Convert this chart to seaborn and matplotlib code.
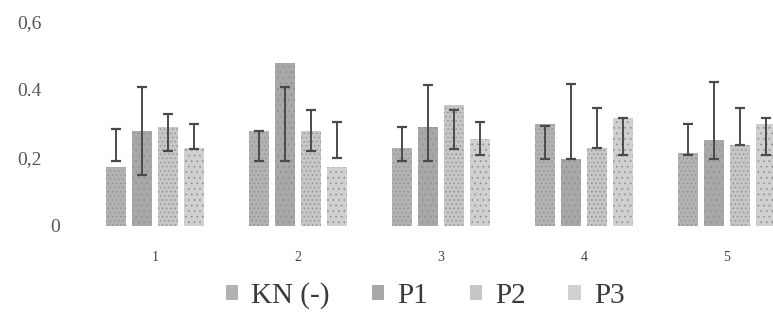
import numpy as np
import pandas as pd
import matplotlib
matplotlib.use("Agg")
import matplotlib.pyplot as plt
import matplotlib.transforms as mtransforms
import seaborn as sns

# Group labels and treatments
groups = ["1", "2", "3", "4", "5"]
treatments = ["KN (-)", "P1", "P2", "P3"]

# Bar heights per treatment
kn_vals = [0.175, 0.28, 0.23, 0.30, 0.215]
p1_vals = [0.28, 0.48, 0.29, 0.197, 0.253]
p2_vals = [0.29, 0.28, 0.355, 0.23, 0.238]
p3_vals = [0.23, 0.175, 0.255, 0.317, 0.30]

# Error bar lower / upper ends per treatment
kn_lo = [0.19, 0.19, 0.19, 0.197, 0.21]
kn_hi = [0.285, 0.28, 0.29, 0.294, 0.30]
p1_lo = [0.15, 0.19, 0.19, 0.197, 0.197]
p1_hi = [0.41, 0.41, 0.415, 0.418, 0.425]
p2_lo = [0.22, 0.22, 0.227, 0.23, 0.238]
p2_hi = [0.33, 0.34, 0.34, 0.347, 0.347]
p3_lo = [0.226, 0.20, 0.21, 0.21, 0.21]
p3_hi = [0.30, 0.306, 0.306, 0.317, 0.317]

y_ticks = [0, 0.2, 0.4, 0.6]
y_tick_labels = ["0", "0,2", "0.4", "0,6"]

values = [kn_vals, p1_vals, p2_vals, p3_vals]
lows = [kn_lo, p1_lo, p2_lo, p3_lo]
highs = [kn_hi, p1_hi, p2_hi, p3_hi]

df = pd.DataFrame({
    "group": np.repeat([groups], len(treatments), axis=0).ravel(),
    "treatment": np.repeat(treatments, len(groups)),
    "value": np.concatenate(values),
})

sns.set_theme(style="white")
plt.rcParams["font.family"] = ["Liberation Serif", "DejaVu Serif"]
plt.rcParams["hatch.linewidth"] = 0.5

colors = ["#b2b2b2", "#a8a8a8", "#c6c6c6", "#d0d0d0"]

fig = plt.figure(figsize=(7.73, 3.30), dpi=100)
ax = fig.add_axes([83.5 / 773, 1 - 226 / 330, 715 / 773, 204 / 330])

sns.barplot(data=df, x="group", y="value", hue="treatment",
            order=groups, hue_order=treatments, palette=colors,
            width=0.73, gap=0.25, errorbar=None, ax=ax, legend=True,
            edgecolor="none", linewidth=0)

# Stippled texture on bars
hatches = ["....", "...", "....", "..."]
for cont, hp in zip(ax.containers, hatches):
    for bar in cont:
        bar.set_hatch(hp)
        bar.set_edgecolor("#8f8f8f")
        bar.set_linewidth(0)

# Error bars from stated low/high ends
for cont, lo, hi in zip(ax.containers, lows, highs):
    xs = [b.get_x() + b.get_width() / 2 for b in cont]
    lo = np.array(lo)
    hi = np.array(hi)
    ax.errorbar(xs, (lo + hi) / 2, yerr=(hi - lo) / 2, fmt="none",
                ecolor="#4a4a4a", elinewidth=1.4, capsize=3.5, capthick=1.6)

ax.set_xlim(-0.5, 4.5)
ax.set_ylim(0, 0.6)
ax.set_yticks(y_ticks)
ax.set_yticklabels(y_tick_labels, fontsize=14, color="#555555")
ax.tick_params(axis="x", labelsize=10, colors="#444444", pad=18, length=0)
ax.tick_params(axis="y", pad=30, length=0)
# the zero label sits closer to the bars
zero_lbl = ax.get_yticklabels()[0]
zero_lbl.set_transform(zero_lbl.get_transform() +
                       mtransforms.ScaledTranslation(18 / 100, 0, fig.dpi_scale_trans))
ax.set_xlabel("")
ax.set_ylabel("")
for s in ax.spines.values():
    s.set_visible(False)

handles, labels = ax.get_legend_handles_labels()
ax.get_legend().remove()
for h in handles:
    h.set_hatch("")
fig.legend(handles, labels, loc="center", bbox_to_anchor=(425 / 773, 1 - 296 / 330),
           ncol=4, frameon=False, fontsize=21, handlelength=0.42, handleheight=0.42,
           handletextpad=0.45, columnspacing=1.45, labelcolor="#3a3a3a")

fig.savefig("out.png", dpi=100)
